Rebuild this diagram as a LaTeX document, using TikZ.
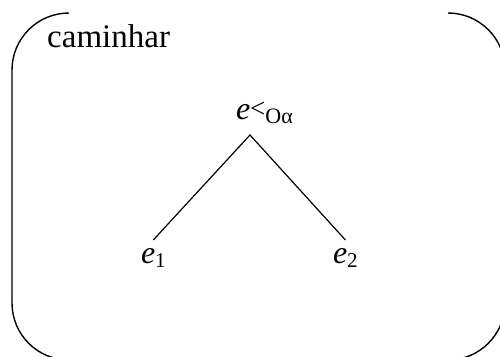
\documentclass[tikz,border=0pt]{standalone}
\usepackage{fontspec}
\setmainfont{Liberation Serif}
\usetikzlibrary{positioning}

\begin{document}
\begin{tikzpicture}[
  x=1pt, y=-1pt,
  frame/.style={line width=1.4pt, rounded corners=57pt},
  edge/.style={line width=1.2pt},
  word/.style={font=\fontsize{33}{36}\selectfont, inner sep=0pt},
  leaf/.style={font=\fontsize{32}{34}\selectfont, inner sep=0pt, outer sep=8pt},
]
\useasboundingbox (0,0) rectangle (500,356);
% frame, open at the top
\draw[frame] (69,13) -- (12,13) -- (12,360) -- (505,360) -- (505,13) -- (448,13);
\node[word, anchor=base west] (name) at (47,47) {caminhar};
% tree
\node[leaf, anchor=base west, outer sep=0pt] (root) at (236,119)
  {\textit{e}\raisebox{2pt}{\fontsize{27}{28}\selectfont<}\raisebox{-4pt}{\fontsize{22}{22}\selectfont Oα}};
\coordinate (apex) at (250,135);
\node[leaf, anchor=base west] (e1) at (133,263) {\textit{e}\raisebox{-4pt}{\fontsize{21}{22}\selectfont 1}};
\node[leaf, anchor=base west] (e2) at (325,263) {\textit{e}\raisebox{-4pt}{\fontsize{21}{22}\selectfont 2}};
\draw[edge] (e1.north) -- (apex) -- (e2.north);
\end{tikzpicture}
\end{document}
